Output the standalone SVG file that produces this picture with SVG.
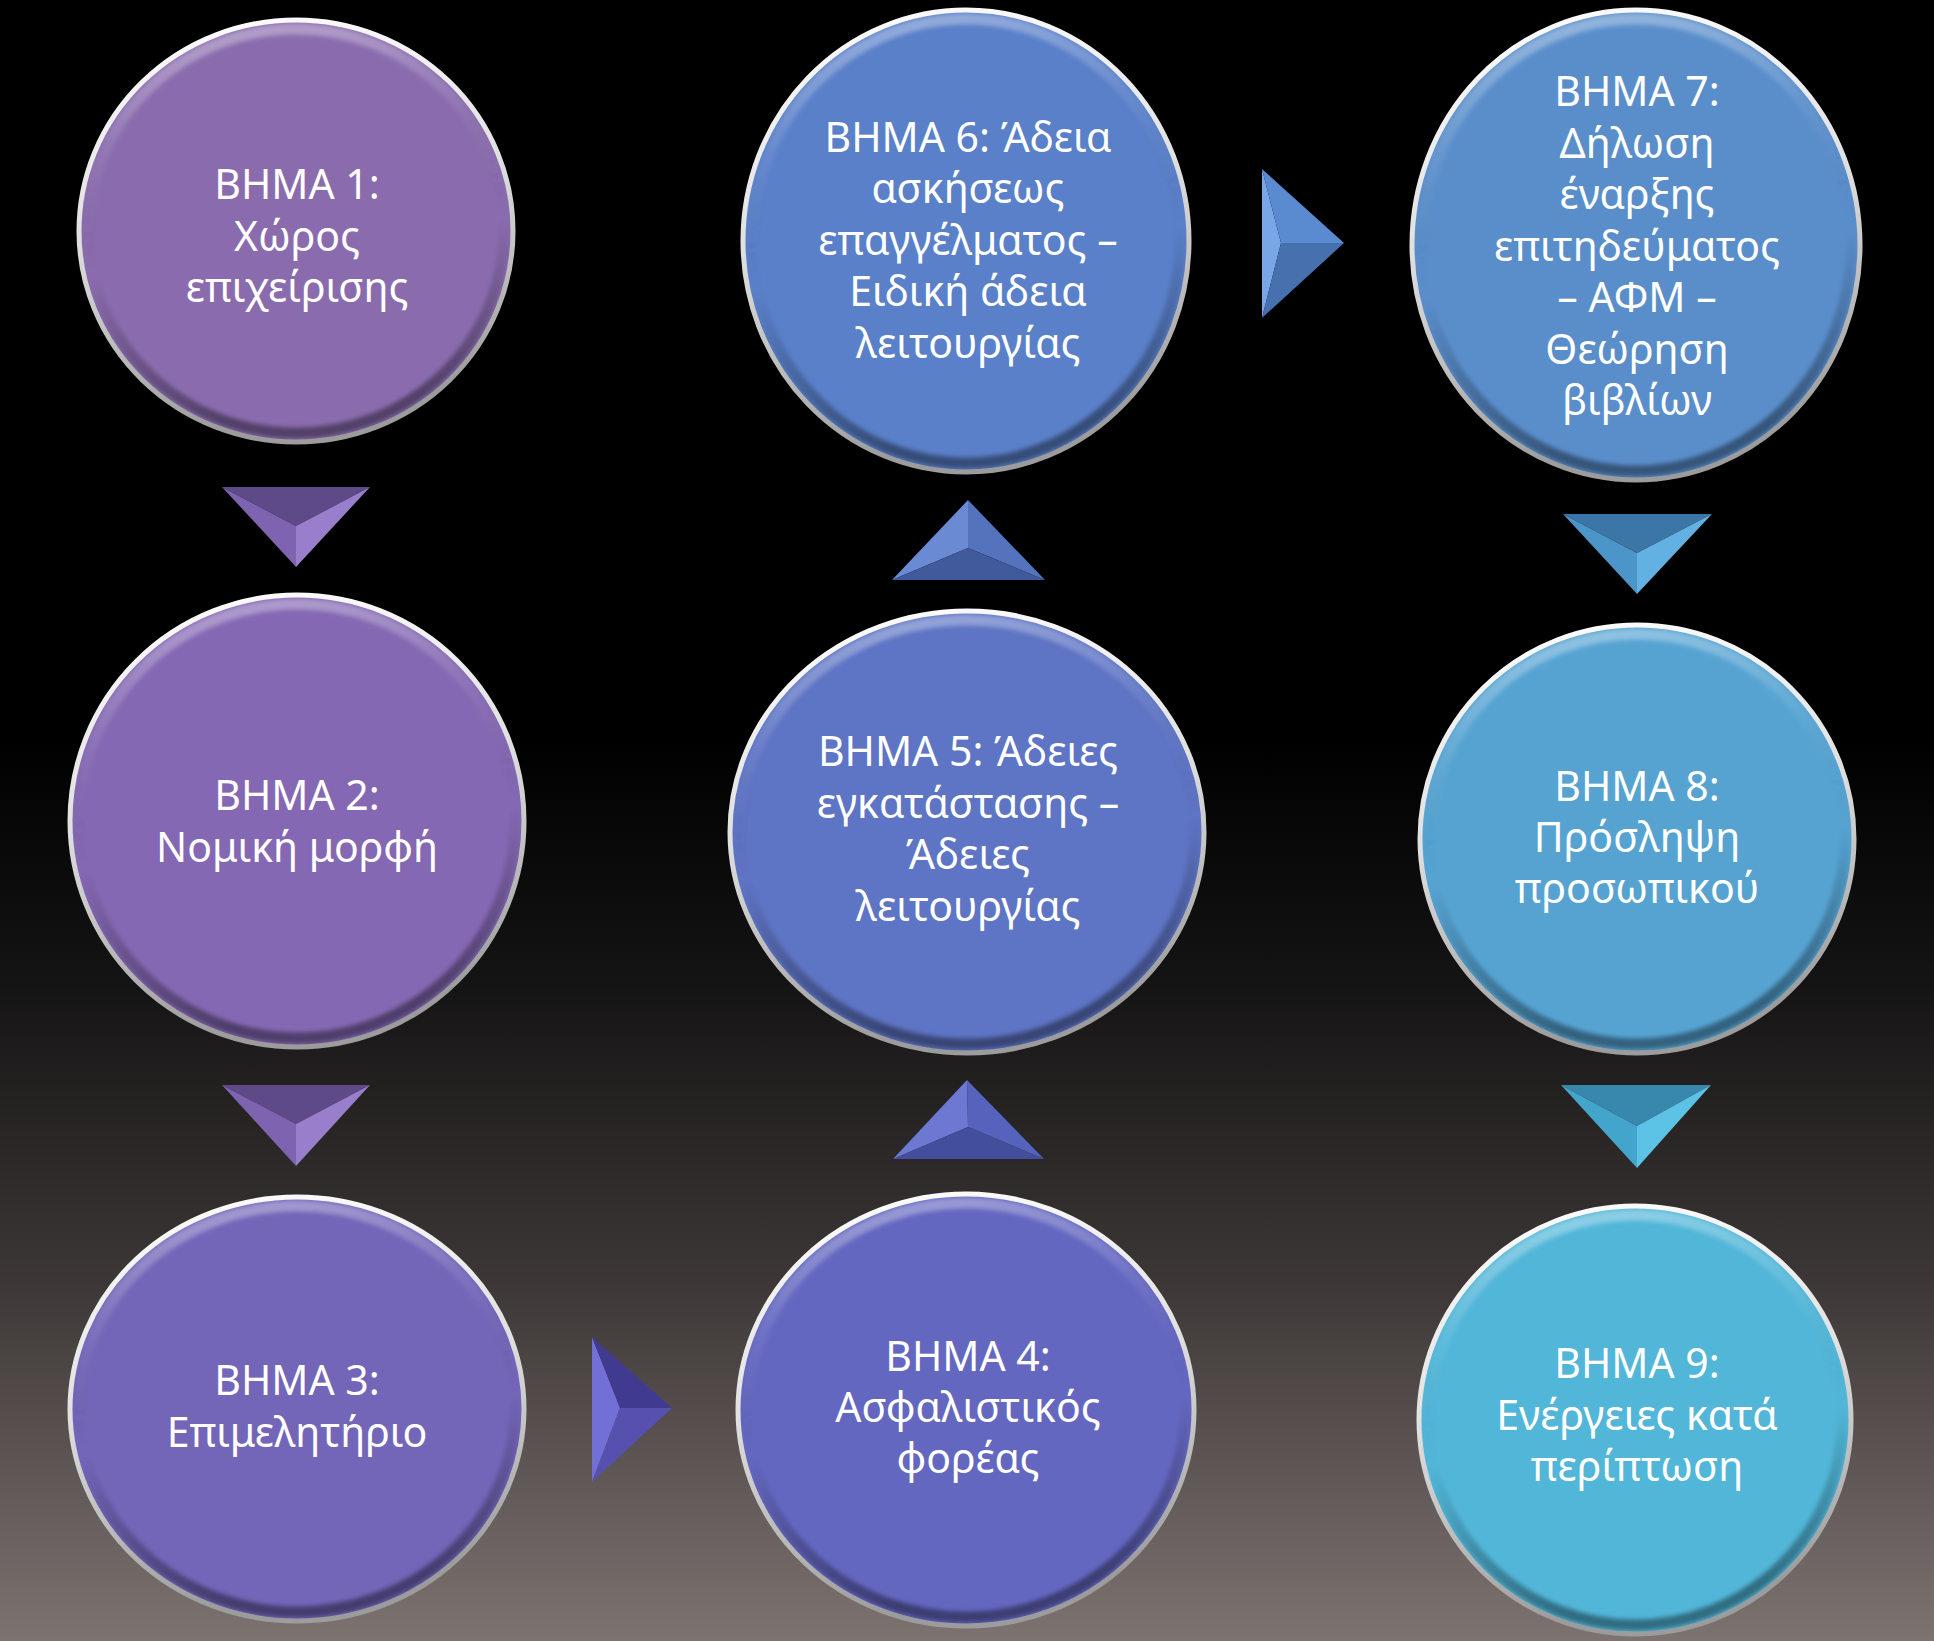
<svg xmlns="http://www.w3.org/2000/svg" width="1934" height="1641" viewBox="0 0 1934 1641">
<defs>
<style>
.t{font-family:"Noto Sans","Open Sans","DejaVu Sans",sans-serif;font-size:41px;fill:#ffffff;text-anchor:middle}
.rim{fill:none;stroke:url(#rim);stroke-width:5}
.bev{fill:none;stroke:url(#bevel);stroke-width:11;filter:url(#soft)}
</style>
<linearGradient id="bg" x1="0" y1="0" x2="0" y2="1">
<stop offset="0" stop-color="#000"/>
<stop offset="0.45" stop-color="#000"/>
<stop offset="0.6" stop-color="#151414"/>
<stop offset="0.78" stop-color="#3c3736"/>
<stop offset="1" stop-color="#7d7371"/>
</linearGradient>
<linearGradient id="rim" x1="0" y1="0" x2="0.2" y2="1">
<stop offset="0" stop-color="#ffffff"/>
<stop offset="0.5" stop-color="#e0e0e0"/>
<stop offset="1" stop-color="#9c9c9c"/>
</linearGradient>
<linearGradient id="bevel" x1="0" y1="0" x2="0.15" y2="1">
<stop offset="0" stop-color="#ffffff" stop-opacity="0.4"/>
<stop offset="0.3" stop-color="#ffffff" stop-opacity="0.08"/>
<stop offset="0.6" stop-color="#000000" stop-opacity="0"/>
<stop offset="1" stop-color="#000000" stop-opacity="0.4"/>
</linearGradient>
<filter id="soft" x="-10%" y="-10%" width="120%" height="120%"><feGaussianBlur stdDeviation="2.2"/></filter>
</defs>
<rect x="0" y="0" width="1934" height="1641" fill="url(#bg)"/>

<g id="connectors">
<g id="arrow-1-2">
<polygon points="222,487 370,487 296,526" fill="#5e4a88"/>
<polygon points="222,487 296,526 296,567" fill="#7e63b0"/>
<polygon points="370,487 296,526 296,567" fill="#987ecb"/>
</g>
<g id="arrow-2-3">
<polygon points="222,1085 370,1085 296,1124" fill="#5e4a88"/>
<polygon points="222,1085 296,1124 296,1166" fill="#7e63b0"/>
<polygon points="370,1085 296,1124 296,1166" fill="#987ecb"/>
</g>
<g id="arrow-3-4">
<polygon points="592,1337 592,1482 620,1408" fill="#726fd6"/>
<polygon points="592,1337 672,1408 620,1408" fill="#403b90"/>
<polygon points="592,1482 672,1408 620,1408" fill="#5651ae"/>
</g>
<g id="arrow-4-5">
<polygon points="967,1080 893,1159 968,1127" fill="#6c78d2"/>
<polygon points="967,1080 1044,1159 968,1127" fill="#5663bc"/>
<polygon points="893,1159 1044,1159 968,1127" fill="#434e9c"/>
</g>
<g id="arrow-5-6">
<polygon points="968,500 892,580 968,548" fill="#6a8ad4"/>
<polygon points="968,500 1045,580 968,548" fill="#5573bd"/>
<polygon points="892,580 1045,580 968,548" fill="#405a9c"/>
</g>
<g id="arrow-6-7">
<polygon points="1262,169 1262,318 1281,243" fill="#78a6e6"/>
<polygon points="1262,169 1344,243 1281,243" fill="#5a8ad0"/>
<polygon points="1262,318 1344,243 1281,243" fill="#4670ae"/>
</g>
<g id="arrow-7-8">
<polygon points="1563,514 1712,514 1637,553" fill="#3c76a6"/>
<polygon points="1563,514 1637,553 1637,594" fill="#4b95c8"/>
<polygon points="1712,514 1637,553 1637,594" fill="#63b0e2"/>
</g>
<g id="arrow-8-9">
<polygon points="1561,1085 1711,1085 1637,1126" fill="#3887ac"/>
<polygon points="1561,1085 1637,1126 1637,1168" fill="#44a5cc"/>
<polygon points="1711,1085 1637,1126 1637,1168" fill="#5cc2e6"/>
</g>
</g>

<g id="step1">
<ellipse cx="296" cy="231" rx="217" ry="211" fill="#8a6cae"/>
<ellipse class="bev" cx="296" cy="231" rx="208" ry="202"/>
<ellipse class="rim" cx="296" cy="231" rx="217" ry="211"/>
<text class="t" x="297" y="199">BHMA 1:</text>
<text class="t" x="297" y="251">Χώρος</text>
<text class="t" x="297" y="302">επιχείρισης</text>
</g>

<g id="step2">
<ellipse cx="297" cy="821" rx="227" ry="226" fill="#8468b3"/>
<ellipse class="bev" cx="297" cy="821" rx="218" ry="217"/>
<ellipse class="rim" cx="297" cy="821" rx="227" ry="226"/>
<text class="t" x="297" y="810">BHMA 2:</text>
<text class="t" x="297" y="862">Νομική μορφή</text>
</g>

<g id="step3">
<ellipse cx="297" cy="1409" rx="227" ry="212" fill="#7365b8"/>
<ellipse class="bev" cx="297" cy="1409" rx="218" ry="203"/>
<ellipse class="rim" cx="297" cy="1409" rx="227" ry="212"/>
<text class="t" x="297" y="1395">BHMA 3:</text>
<text class="t" x="297" y="1447">Επιμελητήριο</text>
</g>

<g id="step4">
<ellipse cx="966" cy="1410" rx="228" ry="216" fill="#6467c0"/>
<ellipse class="bev" cx="966" cy="1410" rx="219" ry="207"/>
<ellipse class="rim" cx="966" cy="1410" rx="228" ry="216"/>
<text class="t" x="968" y="1371">BHMA 4:</text>
<text class="t" x="968" y="1422">Ασφαλιστικός</text>
<text class="t" x="968" y="1473">φορέας</text>
</g>

<g id="step5">
<ellipse cx="967" cy="832" rx="237" ry="221" fill="#5e74c4"/>
<ellipse class="bev" cx="967" cy="832" rx="228" ry="212"/>
<ellipse class="rim" cx="967" cy="832" rx="237" ry="221"/>
<text class="t" x="968" y="766">BHMA 5: Άδειες</text>
<text class="t" x="968" y="818">εγκατάστασης –</text>
<text class="t" x="968" y="869">Άδειες</text>
<text class="t" x="968" y="921">λειτουργίας</text>
</g>

<g id="step6">
<ellipse cx="966" cy="241" rx="223" ry="231" fill="#5a80c9"/>
<ellipse class="bev" cx="966" cy="241" rx="214" ry="222"/>
<ellipse class="rim" cx="966" cy="241" rx="223" ry="231"/>
<text class="t" x="968" y="152">BHMA 6: Άδεια</text>
<text class="t" x="968" y="203">ασκήσεως</text>
<text class="t" x="968" y="255">επαγγέλματος –</text>
<text class="t" x="968" y="306">Ειδική άδεια</text>
<text class="t" x="968" y="358">λειτουργίας</text>
</g>

<g id="step7">
<ellipse cx="1636" cy="245" rx="224" ry="235" fill="#5a8ecb"/>
<ellipse class="bev" cx="1636" cy="245" rx="215" ry="226"/>
<ellipse class="rim" cx="1636" cy="245" rx="224" ry="235"/>
<text class="t" x="1637" y="106">BHMA 7:</text>
<text class="t" x="1637" y="158">Δήλωση</text>
<text class="t" x="1637" y="209">έναρξης</text>
<text class="t" x="1637" y="261">επιτηδεύματος</text>
<text class="t" x="1637" y="312">– ΑΦΜ –</text>
<text class="t" x="1637" y="364">Θεώρηση</text>
<text class="t" x="1637" y="415">βιβλίων</text>
</g>

<g id="step8">
<ellipse cx="1637" cy="839" rx="217" ry="214" fill="#56a3d2"/>
<ellipse class="bev" cx="1637" cy="839" rx="208" ry="205"/>
<ellipse class="rim" cx="1637" cy="839" rx="217" ry="214"/>
<text class="t" x="1637" y="801">BHMA 8:</text>
<text class="t" x="1637" y="852">Πρόσληψη</text>
<text class="t" x="1637" y="903">προσωπικού</text>
</g>

<g id="step9">
<ellipse cx="1635" cy="1420" rx="216" ry="214" fill="#52b6d8"/>
<ellipse class="bev" cx="1635" cy="1420" rx="207" ry="205"/>
<ellipse class="rim" cx="1635" cy="1420" rx="216" ry="214"/>
<text class="t" x="1637" y="1378">BHMA 9:</text>
<text class="t" x="1637" y="1430">Ενέργειες κατά</text>
<text class="t" x="1637" y="1481">περίπτωση</text>
</g>
</svg>
